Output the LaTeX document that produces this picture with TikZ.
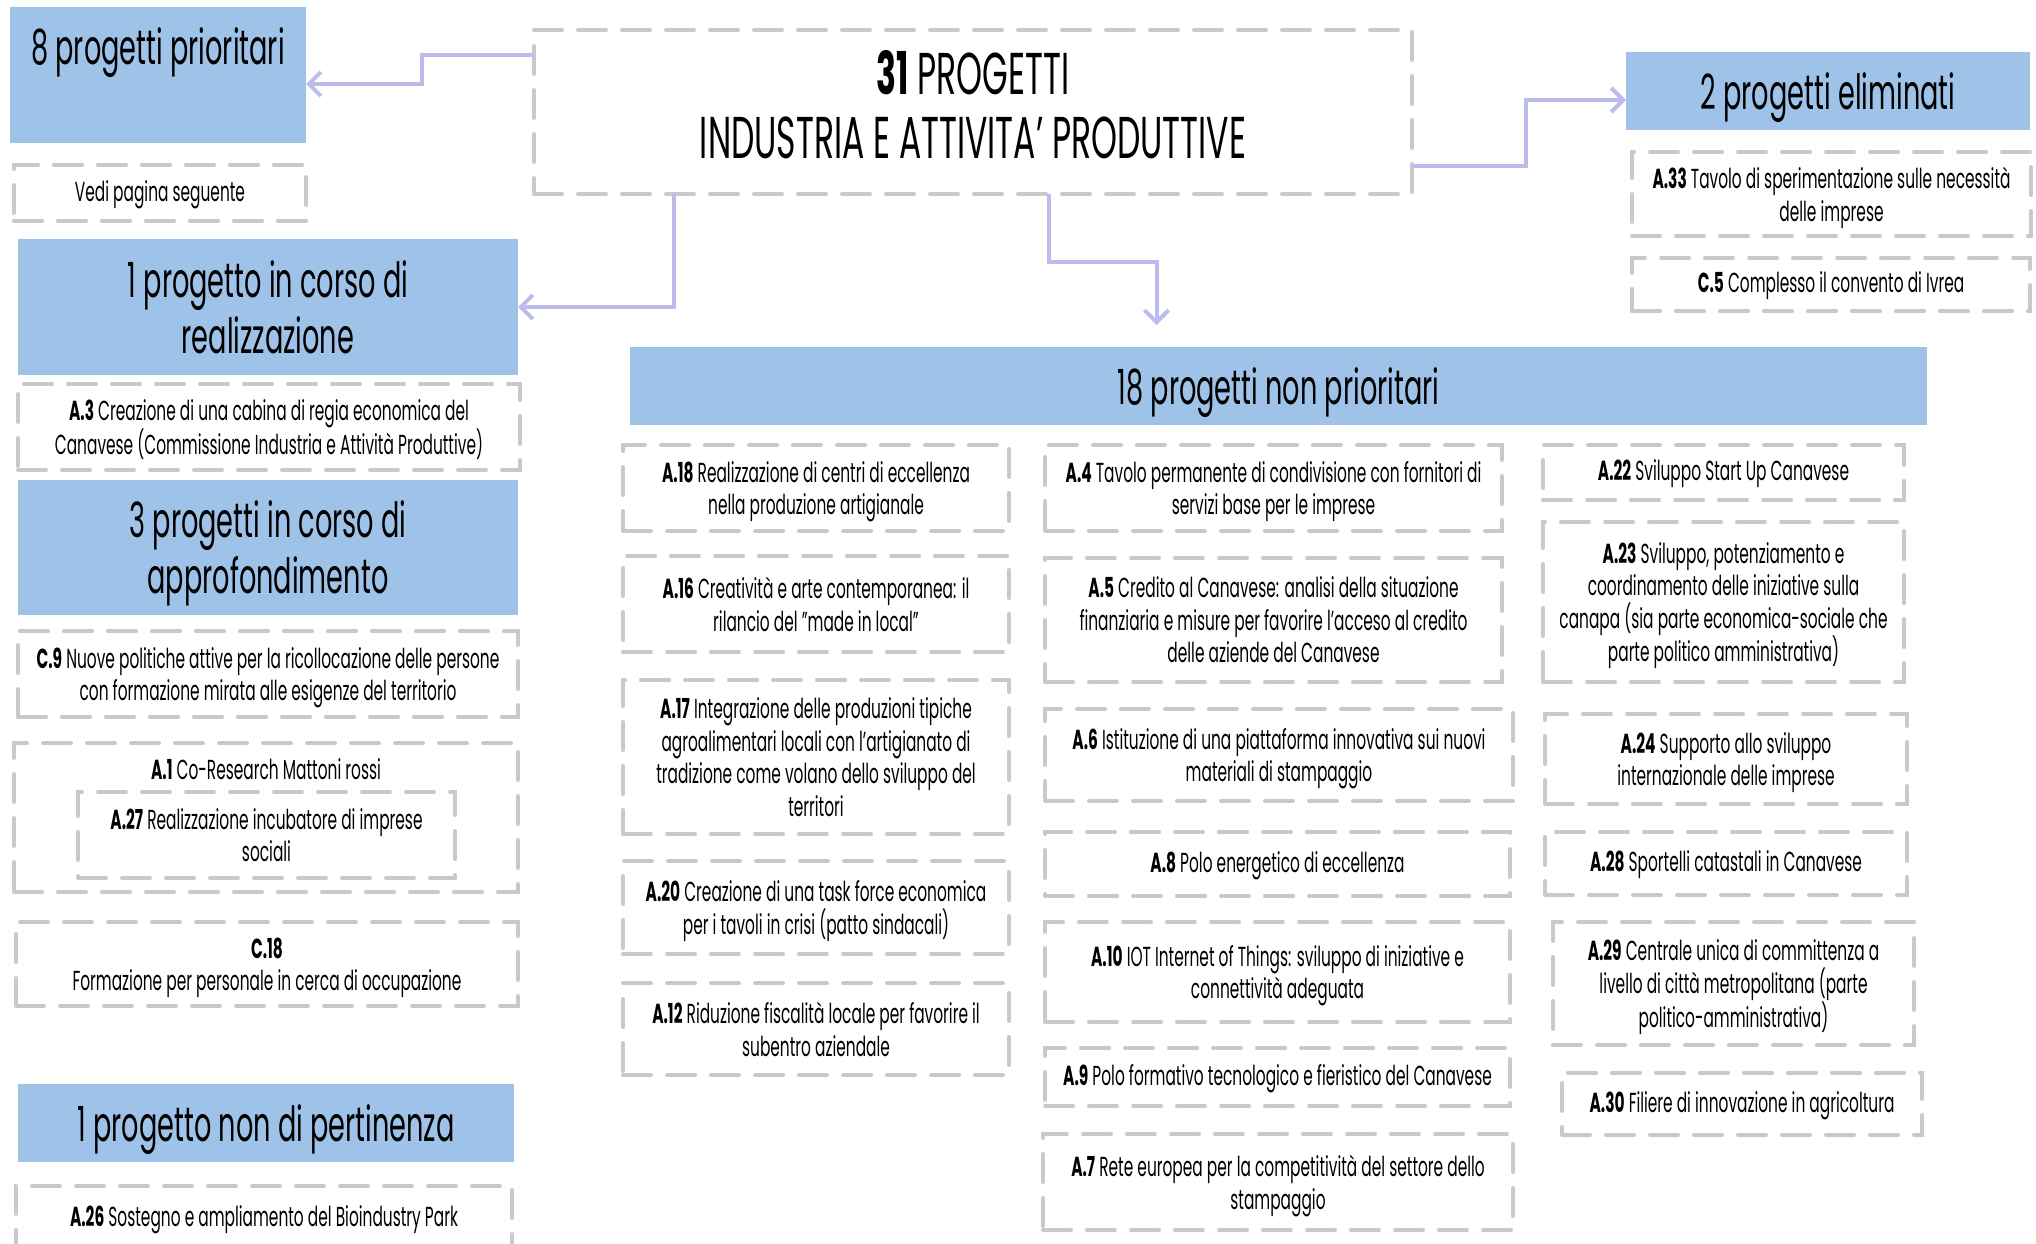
\documentclass[tikz,border=0pt]{standalone}
\usepackage{fontspec}
\setmainfont{Poppins}[FakeStretch=0.56]
\usepackage{tikz}
\usetikzlibrary{positioning,arrows.meta}
\definecolor{headblue}{RGB}{159,194,233}
\definecolor{dashgray}{RGB}{201,201,201}
\definecolor{linkviolet}{RGB}{187,187,238}
\newcommand {\code}[1]{%
\textbf{#1}%
}

\begin{document}
\begin{tikzpicture}[x=1pt,y=-1pt,>={Straight Barb[length=12pt,width=24pt]},
		item/.style={draw=dashgray,line width=4pt,dash pattern=on 28pt off 16pt,line cap=round,align=center,inner sep=0pt,outer sep=0pt,anchor=north west,font=\fontsize{27.5}{32.5}\selectfont,text depth=-2pt},
		single/.style={item,text depth=4pt},
		head/.style={fill=headblue,align=center,inner sep=0pt,outer sep=0pt,anchor=north west,font=\fontsize{48.5}{56}\selectfont,text depth=0pt},
		link/.style={draw=linkviolet,line width=4pt,->}]

		\clip (0,0) rectangle (2036,1244);
		\fill[white] (0,0) rectangle (2036,1244);

		% the total
		\node[item,minimum width=878pt,minimum height=164pt,font=\fontsize{59}{64}\selectfont,text depth=16pt] (tot) at (534,30) {\textbf{31} PROGETTI\\INDUSTRIA E ATTIVITA’ PRODUTTIVE};

		% left column
		\node[head,minimum width=296pt,text height=58pt,text depth=78pt] (prio) at (10,7) {8 progetti prioritari};
		\node[single,minimum width=292pt,minimum height=56pt] (vedi) at (14,165) {Vedi pagina seguente};
		\node[head,minimum width=500pt,minimum height=136pt] (real) at (18,239) {1 progetto in corso di\\realizzazione};
		\node[item,minimum width=502pt,minimum height=86pt] (a3) at (18,384) {\code{A.3} Creazione di una cabina di regia economica del\\Canavese (Commissione Industria e Attività Produttive)};
		\node[head,minimum width=500pt,minimum height=135pt] (appr) at (18,480) {3 progetti in corso di\\approfondimento};
		\node[item,minimum width=500pt,minimum height=86pt] (c9) at (18,631) {\code{C.9} Nuove politiche attive per la ricollocazione delle persone\\con formazione mirata alle esigenze del territorio};
		\node[item,minimum width=504pt,text height=36pt,text depth=113pt] (a1) at (14,743) {\code{A.1} Co-Research Mattoni rossi};
		\node[item,minimum width=377pt,minimum height=86pt] (a27) at (78,792) {\code{A.27} Realizzazione incubatore di imprese\\sociali};
		\node[item,minimum width=502pt,minimum height=84pt] (c18) at (16,922) {\code{C.18}\\Formazione per personale in cerca di occupazione};
		\node[head,minimum width=496pt,minimum height=78pt] (nonper) at (18,1084) {1 progetto non di pertinenza};
		\node[single,minimum width=496pt,minimum height=64pt] (a26) at (16,1186) {\code{A.26} Sostegno e ampliamento del Bioindustry Park};

		% the eliminated ones
		\node[head,minimum width=404pt,minimum height=78pt] (elim) at (1626,52) {2 progetti eliminati};
		\node[item,minimum width=399pt,minimum height=84pt] (a33) at (1632,152) {\code{A.33} Tavolo di sperimentazione sulle necessità\\delle imprese};
		\node[single,minimum width=398pt,minimum height=53pt] (c5) at (1632,258) {\code{C.5} Complesso il convento di Ivrea};

		% the non priority ones
		\node[head,minimum width=1297pt,minimum height=78pt] (nonprio) at (630,347) {18 progetti non prioritari};

		\node[item,minimum width=386pt,minimum height=86pt] (a18) at (623,445) {\code{A.18} Realizzazione di centri di eccellenza\\nella produzione artigianale};
		\node[item,minimum width=386pt,minimum height=96pt,below right=25pt and 0pt of a18.south west] (a16) {\code{A.16} Creatività e arte contemporanea: il\\rilancio del "made in local"};
		\node[item,minimum width=386pt,minimum height=154pt,below right=28pt and 0pt of a16.south west] (a17) {\code{A.17} Integrazione delle produzioni tipiche\\agroalimentari locali con l'artigianato di\\tradizione come volano dello sviluppo del\\territori};
		\node[item,minimum width=386pt,minimum height=93pt,below right=27pt and 0pt of a17.south west] (a20) {\code{A.20} Creazione di una task force economica\\per i tavoli in crisi (patto sindacali)};
		\node[item,minimum width=386pt,minimum height=92pt,below right=29pt and 0pt of a20.south west] (a12) {\code{A.12} Riduzione fiscalità locale per favorire il\\subentro aziendale};

		\node[item,minimum width=457pt,minimum height=86pt] (a4) at (1045,445) {\code{A.4} Tavolo permanente di condivisione con fornitori di\\servizi base per le imprese};
		\node[item,minimum width=457pt,minimum height=124pt,below right=27pt and 0pt of a4.south west] (a5) {\code{A.5} Credito al Canavese: analisi della situazione\\finanziaria e misure per favorire l'acceso al credito\\delle aziende del Canavese};
		\node[item,minimum width=468pt,minimum height=92pt,below right=27pt and 0pt of a5.south west] (a6) {\code{A.6} Istituzione di una piattaforma innovativa sui nuovi\\materiali di stampaggio};
		\node[single,minimum width=465pt,minimum height=64pt,below right=31pt and 0pt of a6.south west] (a8) {\code{A.8} Polo energetico di eccellenza};
		\node[item,minimum width=465pt,minimum height=100pt,below right=26pt and 0pt of a8.south west] (a10) {\code{A.10} IOT Internet of Things: sviluppo di iniziative e\\connettività adeguata};
		\node[single,minimum width=465pt,minimum height=58pt,below right=26pt and 0pt of a10.south west] (a9) {\code{A.9} Polo formativo tecnologico e fieristico del Canavese};
		\node[item,minimum width=470pt,minimum height=96pt,below right=28pt and -2pt of a9.south west] (a7) {\code{A.7} Rete europea per la competitività del settore dello\\stampaggio};

		\node[single,minimum width=361pt,minimum height=55pt] (a22) at (1543,445) {\code{A.22} Sviluppo Start Up Canavese};
		\node[item,minimum width=361pt,minimum height=160pt,below right=22pt and 0pt of a22.south west] (a23) {\code{A.23} Sviluppo, potenziamento e\\coordinamento delle iniziative sulla\\canapa (sia parte economica-sociale che\\parte politico amministrativa)};
		\node[item,minimum width=362pt,minimum height=90pt,below right=32pt and 2pt of a23.south west] (a24) {\code{A.24} Supporto allo sviluppo\\internazionale delle imprese};
		\node[single,minimum width=362pt,minimum height=63pt,below right=28pt and 0pt of a24.south west] (a28) {\code{A.28} Sportelli catastali in Canavese};
		\node[item,minimum width=361pt,minimum height=123pt,below right=27pt and 8pt of a28.south west] (a29) {\code{A.29} Centrale unica di committenza a\\livello di città metropolitana (parte\\politico-amministrativa)};
		\node[single,minimum width=360pt,minimum height=62pt,below right=28pt and 9pt of a29.south west] (a30) {\code{A.30} Filiere di innovazione in agricoltura};

		% the arrows out of the total
		\draw[link] ([yshift=57pt]tot.west) -- ++(-112,0) |- ([yshift=-9pt]prio.east);
		\draw[link] ([xshift=-299pt]tot.south) |- (real.east);
		\draw[link] ([xshift=76pt]tot.south) -- ++(0,68) -| ([xshift=-122pt,yshift=22pt]nonprio.north);
		\draw[link] ([yshift=-54pt]tot.east) -- ++(114,0) |- ([yshift=-9pt]elim.west);

	\end{tikzpicture}
\end{document}
